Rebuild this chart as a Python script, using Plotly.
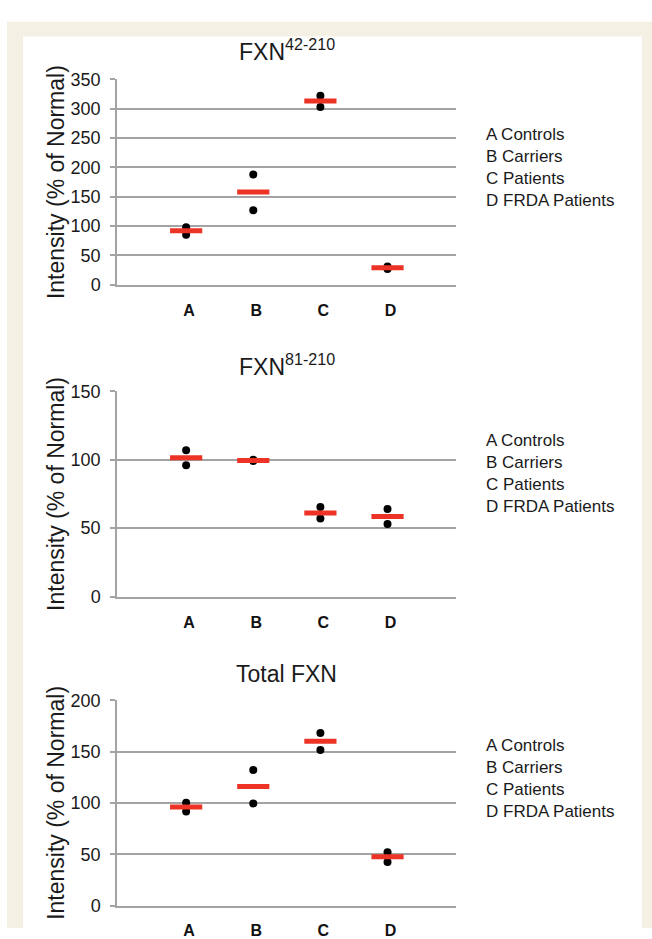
import plotly.graph_objects as go

W, H = 652, 939

categories = ["A", "B", "C", "D"]
legend_lines = ["A Controls", "B Carriers", "C Patients", "D FRDA Patients"]

fxn42_rep1 = [98, 188, 322, 31]
fxn42_rep2 = [85, 127, 303, 27]
fxn42_mean = [92, 158, 313, 29]

fxn81_rep1 = [107, 100, 65.5, 64]
fxn81_rep2 = [96, 99, 57, 53]
fxn81_mean = [101.5, 99.5, 61, 58.5]

total_rep1 = [100, 132, 168, 52]
total_rep2 = [91.5, 99.5, 151.5, 42.5]
total_mean = [96, 116, 160, 47.5]

panels = [
    dict(title="FXN<sup>42-210</sup>", reps=[fxn42_rep1, fxn42_rep2], mean=fxn42_mean,
         ymax=350, dtick=50, top=71, bottom=281, title_y=41, legend_top=116),
    dict(title="FXN<sup>81-210</sup>", reps=[fxn81_rep1, fxn81_rep2], mean=fxn81_mean,
         ymax=150, dtick=50, top=390, bottom=600, title_y=363, legend_top=429),
    dict(title="Total FXN", reps=[total_rep1, total_rep2], mean=total_mean,
         ymax=200, dtick=50, top=706, bottom=916, title_y=679, legend_top=741),
]

FONT = "Arial, 'Liberation Sans', sans-serif"
GRID = "#a3a3a3"
RED = "#ec3326"

def px_x(p):
    return p / W

def px_y(p):
    return 1 - p / H

fig = go.Figure()
annotations = []
shapes = [
    dict(type="rect", xref="paper", yref="paper", x0=px_x(7), x1=px_x(652), y0=px_y(939), y1=px_y(12),
         fillcolor="#f4f0e3", line=dict(width=0), layer="below"),
    dict(type="rect", xref="paper", yref="paper", x0=px_x(23), x1=px_x(642), y0=px_y(939), y1=px_y(27),
         fillcolor="white", line=dict(width=0), layer="below"),
]

X0, X1 = 117, 456
for i, p in enumerate(panels, start=1):
    xa = "x" if i == 1 else f"x{i}"
    ya = "y" if i == 1 else f"y{i}"
    for reps in p["reps"]:
        fig.add_trace(go.Scatter(x=categories, y=reps, mode="markers", xaxis=xa, yaxis=ya,
                                 marker=dict(color="black", size=8), showlegend=False,
                                 cliponaxis=False))
    fig.add_trace(go.Scatter(x=categories, y=p["mean"], mode="markers", xaxis=xa, yaxis=ya,
                             marker=dict(symbol="line-ew", size=23, color=RED,
                                         line=dict(color=RED, width=5)),
                             showlegend=False, cliponaxis=False))
    fig.layout[f"xaxis{'' if i == 1 else i}"] = dict(
        domain=[px_x(X0), px_x(X1)], anchor=ya, type="category",
        categoryorder="array", categoryarray=categories,
        range=[-1.03, 4.02], showgrid=False, zeroline=False,
        showline=True, linecolor=GRID, linewidth=1.5, ticks="",
        ticklabelshift=3, ticklabelstandoff=10,
        tickfont=dict(family=FONT, size=16, color="#111", weight="bold"),
        fixedrange=True,
    )
    fig.layout[f"yaxis{'' if i == 1 else i}"] = dict(
        domain=[px_y(p["bottom"]), px_y(p["top"])], anchor=xa,
        range=[0, p["ymax"]], dtick=p["dtick"], tick0=0,
        showgrid=True, gridcolor=GRID, gridwidth=1.5, zeroline=False,
        showline=True, linecolor=GRID, linewidth=1.5,
        ticks="outside", ticklen=5, tickcolor=GRID, tickwidth=1.5,
        ticklabelstandoff=6,
        tickfont=dict(family=FONT, size=18, color="#1a1a1a"),
        fixedrange=True,
    )
    annotations.append(dict(
        text=p["title"], xref="paper", yref="paper",
        x=px_x((X0 + X1) / 2), y=px_y(p["title_y"]), xanchor="center", yanchor="middle",
        showarrow=False, font=dict(family=FONT, size=23, color="#1a1a1a")))
    annotations.append(dict(
        text="Intensity (% of Normal)", xref="paper", yref="paper", textangle=-90,
        x=px_x(56), y=px_y((p["top"] + p["bottom"]) / 2), xanchor="center", yanchor="middle",
        showarrow=False, font=dict(family=FONT, size=23, color="#1a1a1a")))
    annotations.append(dict(
        text="<br>".join(legend_lines), xref="paper", yref="paper", align="left",
        x=px_x(484), y=px_y(p["legend_top"]), xanchor="left", yanchor="top",
        showarrow=False, font=dict(family=FONT, size=17, color="#1a1a1a")))

fig.update_layout(
    width=W, height=H, margin=dict(l=0, r=0, t=0, b=0),
    paper_bgcolor="white", plot_bgcolor="white",
    annotations=annotations, shapes=shapes, showlegend=False,
)

fig.write_html("out.html", config={"displayModeBar": False},
               post_script="document.body.style.margin='0';document.body.style.overflow='hidden';")
